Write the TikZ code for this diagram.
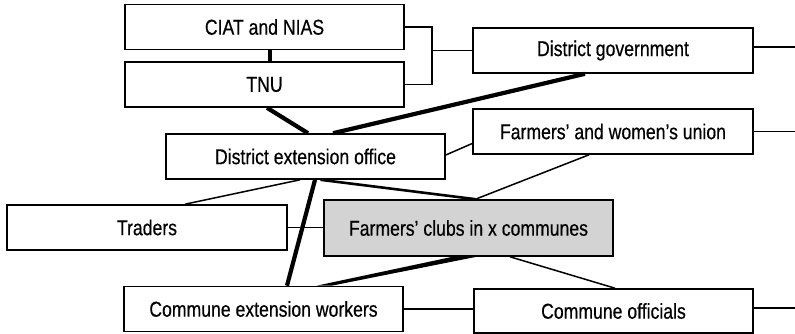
\documentclass[tikz,border=0pt]{standalone}
\usepackage{fontspec}
\setmainfont{Liberation Sans}[FakeStretch=0.82,FakeBold=0.5]
\usepackage{tikz}
\usetikzlibrary{calc}
\definecolor{clubgray}{RGB}{211,211,211}

\begin{document}
\begin{tikzpicture}[x=1pt,y=-1pt,
		box/.style={draw,line width=1.6pt,inner sep=0pt,minimum width=279pt,minimum height=45pt,font=\fontsize{21.5}{24}\selectfont},
		link/.style={line width=1.5pt},
		heavy/.style={line width=2.6pt},
		tie/.style={line width=4.2pt}]
		\useasboundingbox (0,0) rectangle (795,334);
		\coordinate (fork) at (432,50.5);

		\node[box] (ciat) at (264.5,27) {CIAT and NIAS};
		\node[box] (tnu) at (264.5,84.5) {TNU};
		\node[box] (deo) at (305.5,156.5) {District extension office};
		\node[box,minimum width=280pt] (dgov) at (613,50.5) {District government};
		\node[box,minimum width=280pt] (fwu) at (613,131.5) {Farmers' and women's union};
		\node[box,minimum width=280pt] (traders) at (147,227.5) {Traders};
		\node[box,fill=clubgray,minimum width=289pt,minimum height=56pt] (clubs) at (468.5,228) {Farmers' clubs in x communes};
		\node[box] (cew) at (263.5,309) {Commune extension workers};
		\node[box,minimum height=44pt] (coff) at (613.5,311) {Commune officials};

		% bracket and side lines
		\draw[link] (ciat.east) -| (fork) |- (tnu.east);
		\draw[link] (fork) -- (dgov.west);
		\draw[link] ($(dgov.east)+(0,-3.5)$) -- ++(42,0);
		\draw[link] (fwu.east) -- ++(42,0);
		\draw[link] ($(coff.east)+(0,-3)$) -- ++(42,0);
		\draw[link] (traders.east) -- (traders.east -| clubs.west);
		\draw[link] (cew.east) -- (cew.east -| coff.west);

		% strong ties
		\draw[tie] ($(ciat.south)+(5.5,0)$) -- ($(tnu.north)+(5.5,0)$);
		\draw[tie] ($(tnu.south)+(2.5,0)$) -- ($(deo.north)+(2.5,0)$);
		\draw[tie] ($(deo.north)+(27.5,0)$) -- ($(dgov.south)+(-28,0)$);
		\draw[tie] ($(deo.south)+(9.5,0)$) -- ($(cew.north)+(23.5,0)$);
		\draw[heavy] ($(deo.south)+(15,0)$) -- ($(clubs.north)+(7,0)$);
		\fill ($(clubs.south)+(-16,0)$) -- ($(clubs.south)+(8,0)$) -- ($(cew.north)+(68,0)$) -- ($(cew.north)+(53,0)$) -- cycle;

		% weak ties
		\draw[link] ($(deo.east)+(0,-1.5)$) -- ($(fwu.west)+(0,12)$);
		\draw[link] ($(fwu.south)+(-24,0)$) -- ($(clubs.north)+(7,0)$);
		\draw[link] ($(deo.south)+(-5.5,0)$) -- ($(traders.north)+(38,0)$);
		\draw[link] ($(clubs.south)+(41.5,0)$) -- ($(coff.north)+(1.5,0)$);
\end{tikzpicture}
\end{document}
